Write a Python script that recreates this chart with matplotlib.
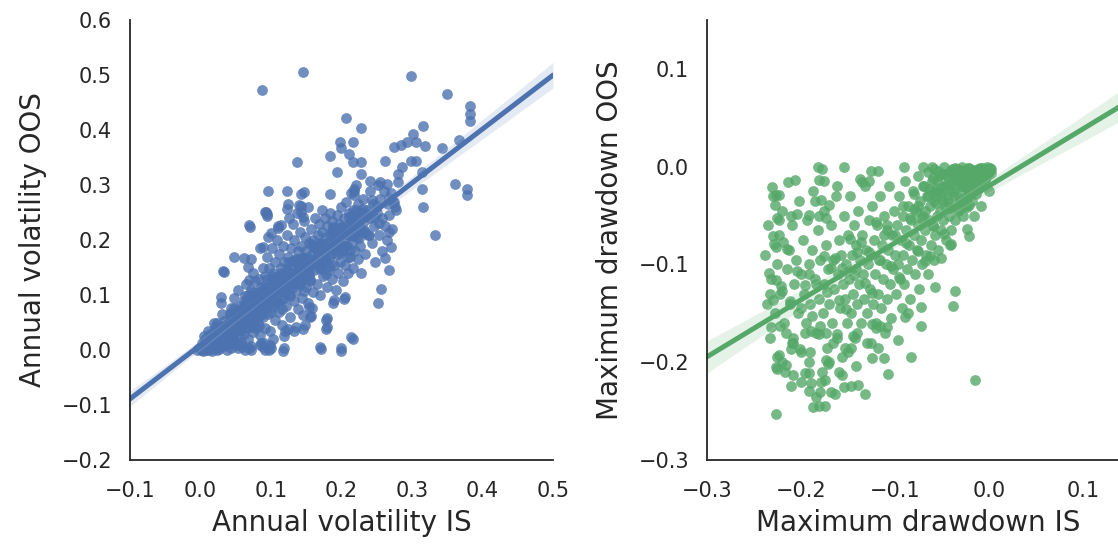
import matplotlib
matplotlib.use("Agg")
import matplotlib.pyplot as plt
import seaborn as sns
import numpy as np

# ---- left panel: annual volatility (IS vs OOS) ----
vol_is = [
    # outliers / sparse points
    0.145, 0.087, 0.299, 0.349, 0.382, 0.382, 0.382, 0.206, 0.227, 0.316, 0.301,
    0.198, 0.217, 0.199, 0.210, 0.183, 0.275, 0.284, 0.293, 0.306, 0.319, 0.342,
    0.366, 0.261, 0.298, 0.306, 0.217, 0.227, 0.137, 0.193, 0.227, 0.280, 0.280,
    0.286, 0.314, 0.240, 0.255, 0.265, 0.361, 0.378, 0.378, 0.314, 0.316, 0.333,
    0.096, 0.123, 0.142, 0.147, 0.218, 0.218, 0.218, 0.183, 0.268, 0.273, 0.276,
    0.092, 0.095, 0.123, 0.142, 0.143, 0.070, 0.047, 0.033, 0.267, 0.270, 0.262,
    0.267, 0.256, 0.252, 0.204, 0.188, 0.178, 0.178, 0.217, 0.171, 0.199, 0.117,
    0.097, 0.092, 0.071, 0.063, 0.053, 0.023, 0.038, 0.158, 0.155, 0.145, 0.132,
    0.120, 0.089, 0.085, 0.124, 0.140, 0.093, 0.095, 0.069, 0.114, 0.126, 0.145,
    0.032, 0.062, 0.071, 0.067, 0.069, 0.088, 0.100, 0.110, 0.190, 0.205, 0.179,
    0.179, 0.154, 0.157, 0.145, 0.124, 0.136, 0.148, 0.169, 0.199, 0.214, 0.057,
    0.069, 0.086, 0.098, 0.100, 0.119, 0.029, 0.029, 0.043,
    # cloud
    0.000, 0.003, 0.005, 0.006, 0.008, 0.010, 0.012, 0.013, 0.015, 0.016, 0.018,
    0.019, 0.020, 0.022, 0.023, 0.025, 0.026, 0.027, 0.028, 0.030, 0.031, 0.032,
    0.034, 0.035, 0.036, 0.038, 0.039, 0.040, 0.041, 0.043, -0.005, -0.002, 0.002,
    0.004, 0.007, 0.011, 0.014, 0.017, 0.021, 0.024,
    0.045, 0.046, 0.048, 0.049, 0.050, 0.051, 0.052, 0.054, 0.055, 0.056, 0.057,
    0.058, 0.060, 0.061, 0.062, 0.063, 0.064, 0.066, 0.067, 0.068, 0.069, 0.070,
    0.071, 0.072, 0.073, 0.074, 0.075, 0.076, 0.077, 0.078, 0.079, 0.080, 0.047,
    0.053, 0.059, 0.065, 0.071, 0.074,
    0.081, 0.082, 0.083, 0.084, 0.085, 0.086, 0.087, 0.088, 0.089, 0.090, 0.091,
    0.092, 0.093, 0.094, 0.095, 0.096, 0.097, 0.098, 0.099, 0.100, 0.101, 0.102,
    0.103, 0.104, 0.105, 0.106, 0.107, 0.108, 0.109, 0.110, 0.111, 0.112, 0.113,
    0.114, 0.115, 0.116, 0.117, 0.118, 0.119, 0.120, 0.084, 0.090, 0.096, 0.103,
    0.110, 0.118,
    0.121, 0.122, 0.123, 0.124, 0.125, 0.126, 0.127, 0.128, 0.129, 0.130, 0.131,
    0.132, 0.133, 0.134, 0.135, 0.136, 0.137, 0.138, 0.139, 0.140, 0.141, 0.142,
    0.143, 0.144, 0.145, 0.146, 0.147, 0.148, 0.149, 0.150, 0.151, 0.152, 0.153,
    0.154, 0.155, 0.156, 0.157, 0.158, 0.159, 0.160,
    0.161, 0.162, 0.163, 0.164, 0.165, 0.166, 0.167, 0.168, 0.169, 0.170, 0.171,
    0.172, 0.173, 0.174, 0.175, 0.176, 0.177, 0.178, 0.179, 0.180, 0.181, 0.182,
    0.183, 0.184, 0.185, 0.186, 0.187, 0.188, 0.189, 0.190, 0.191, 0.192, 0.193,
    0.194, 0.195, 0.196, 0.197, 0.198, 0.199, 0.200,
    0.201, 0.202, 0.203, 0.204, 0.205, 0.206, 0.207, 0.208, 0.209, 0.210, 0.211,
    0.212, 0.213, 0.214, 0.215, 0.216, 0.217, 0.218, 0.219, 0.220, 0.221, 0.222,
    0.223, 0.224, 0.225, 0.226, 0.227, 0.228, 0.229, 0.230, 0.232, 0.234, 0.236,
    0.238, 0.240,
    0.241, 0.243, 0.245, 0.246, 0.248, 0.250, 0.252, 0.253, 0.255, 0.257, 0.258,
    0.260, 0.262, 0.264, 0.266, 0.268, 0.270, 0.272, 0.275, 0.278,
]
vol_oos = [
    0.505, 0.473, 0.498, 0.465, 0.444, 0.429, 0.416, 0.422, 0.403, 0.408, 0.392,
    0.378, 0.378, 0.368, 0.356, 0.352, 0.370, 0.373, 0.378, 0.378, 0.371, 0.367,
    0.381, 0.344, 0.344, 0.344, 0.342, 0.342, 0.342, 0.324, 0.320, 0.320, 0.305,
    0.333, 0.324, 0.308, 0.305, 0.302, 0.302, 0.292, 0.281, 0.293, 0.260, 0.210,
    0.290, 0.290, 0.284, 0.287, 0.292, 0.289, 0.281, 0.283, 0.276, 0.270, 0.260,
    0.251, 0.244, 0.257, 0.262, 0.251, 0.223, 0.170, 0.141, 0.214, 0.187, 0.168,
    0.146, 0.111, 0.086, 0.092, 0.086, 0.054, 0.038, 0.020, 0.001, -0.001, -0.001,
    0.000, 0.000, 0.000, 0.000, 0.003, 0.000, 0.000, 0.076, 0.060, 0.038, 0.035,
    0.035, 0.006, 0.010, 0.265, 0.264, 0.251, 0.247, 0.227, 0.227, 0.240, 0.242,
    0.144, 0.167, 0.165, 0.151, 0.127, 0.188, 0.213, 0.222, 0.091, 0.096, 0.058,
    0.042, 0.078, 0.061, 0.064, 0.039, 0.042, 0.045, 0.006, 0.003, 0.024, 0.009,
    0.003, 0.012, 0.009, 0.003, 0.003, 0.097, 0.085, 0.076,
    0.000, 0.005, 0.002, 0.010, 0.004, 0.015, 0.008, 0.020, 0.003, 0.012, 0.025,
    0.018, 0.007, 0.030, 0.015, 0.022, 0.002, 0.035, 0.012, 0.028, 0.040, 0.018,
    0.008, 0.033, 0.045, 0.024, 0.014, 0.050, 0.036, 0.003, 0.000, 0.004, 0.012,
    -0.002, 0.020, 0.000, 0.030, -0.001, 0.042, 0.050,
    0.020, 0.060, 0.030, 0.042, 0.010, 0.070, 0.052, 0.025, 0.038, 0.080, 0.063,
    0.015, 0.048, 0.090, 0.030, 0.072, 0.055, 0.040, 0.100, 0.020, 0.085, 0.062,
    0.045, 0.110, 0.075, 0.032, 0.095, 0.055, 0.125, 0.068, 0.040, 0.088, 0.095,
    0.110, 0.005, 0.120, 0.008, 0.140,
    0.105, 0.050, 0.130, 0.075, 0.028, 0.115, 0.090, 0.150, 0.060, 0.100, 0.040,
    0.135, 0.080, 0.170, 0.115, 0.065, 0.150, 0.095, 0.035, 0.125, 0.185, 0.078,
    0.140, 0.105, 0.055, 0.160, 0.120, 0.088, 0.200, 0.135, 0.070, 0.175, 0.110,
    0.150, 0.045, 0.128, 0.190, 0.095, 0.160, 0.118, 0.185, 0.012, 0.205, 0.020,
    0.225, 0.025,
    0.080, 0.145, 0.210, 0.170, 0.100, 0.135, 0.060, 0.185, 0.155, 0.120, 0.230,
    0.090, 0.200, 0.165, 0.140, 0.108, 0.250, 0.180, 0.075, 0.155, 0.215, 0.125,
    0.190, 0.095, 0.170, 0.140, 0.235, 0.205, 0.115, 0.180, 0.150, 0.260, 0.085,
    0.195, 0.165, 0.130, 0.220, 0.175, 0.105, 0.200,
    0.145, 0.240, 0.185, 0.160, 0.120, 0.210, 0.175, 0.230, 0.100, 0.195, 0.150,
    0.255, 0.215, 0.135, 0.180, 0.240, 0.165, 0.205, 0.115, 0.225, 0.190, 0.145,
    0.250, 0.170, 0.210, 0.130, 0.235, 0.185, 0.155, 0.220, 0.200, 0.110, 0.245,
    0.175, 0.140, 0.230, 0.195, 0.160, 0.260, 0.210,
    0.180, 0.125, 0.240, 0.200, 0.155, 0.225, 0.270, 0.190, 0.140, 0.250, 0.210,
    0.170, 0.235, 0.285, 0.195, 0.150, 0.255, 0.220, 0.180, 0.240, 0.300, 0.205,
    0.165, 0.265, 0.230, 0.190, 0.250, 0.140, 0.215, 0.275, 0.235, 0.175, 0.255,
    0.210, 0.290,
    0.240, 0.195, 0.265, 0.225, 0.160, 0.250, 0.300, 0.210, 0.275, 0.180, 0.240,
    0.290, 0.225, 0.200, 0.265, 0.245, 0.285, 0.220, 0.270, 0.255,
]
# tight band of points hugging the diagonal
vol_is_band = [
    0.005, 0.0085, 0.012, 0.0155, 0.019, 0.0225, 0.026, 0.0295, 0.033, 0.0365,
    0.040, 0.0435, 0.047, 0.0505, 0.054, 0.0575, 0.061, 0.0645, 0.068, 0.0715,
    0.075, 0.0785, 0.082, 0.0855, 0.089, 0.0925, 0.096, 0.0995, 0.103, 0.1065,
    0.110, 0.1135, 0.117, 0.1205, 0.124, 0.1275, 0.131, 0.1345, 0.138, 0.1415,
    0.145, 0.1485, 0.152, 0.1555, 0.159, 0.1625, 0.166, 0.1695, 0.173, 0.1765,
    0.180, 0.1835, 0.187, 0.1905, 0.194, 0.1975, 0.201, 0.2045, 0.208, 0.2115,
    0.215, 0.2185, 0.222, 0.2255, 0.229, 0.2325, 0.236, 0.2395, 0.243, 0.2465,
    0.250, 0.2535,
    0.0065, 0.010, 0.0135, 0.017, 0.0205, 0.024, 0.0275, 0.031, 0.0345, 0.038,
    0.0415, 0.045, 0.0485, 0.052, 0.0555, 0.059, 0.0625, 0.066, 0.0695, 0.073,
    0.0765, 0.080, 0.0835, 0.087, 0.0905, 0.094, 0.0975, 0.101, 0.1045, 0.108,
    0.1115, 0.115, 0.1185, 0.122, 0.1255, 0.129, 0.1325, 0.136, 0.1395, 0.143,
    0.1465, 0.150, 0.1535, 0.157, 0.1605, 0.164, 0.1675, 0.171, 0.1745, 0.178,
    0.1815, 0.185, 0.1885, 0.192, 0.1955, 0.199, 0.2025, 0.206, 0.2095, 0.213,
    0.2165, 0.220, 0.2235, 0.227, 0.2305, 0.234, 0.2375,
    0.030, 0.034, 0.038, 0.042, 0.046, 0.050, 0.054, 0.058, 0.062, 0.066,
    0.070, 0.074, 0.078, 0.082, 0.086, 0.090, 0.094, 0.098, 0.102, 0.106,
    0.110, 0.114, 0.118, 0.122, 0.126, 0.130, 0.134, 0.138, 0.142, 0.146,
    0.150, 0.154, 0.158, 0.162, 0.166, 0.170, 0.174, 0.178, 0.182, 0.186,
    0.190, 0.194, 0.198, 0.202, 0.206, 0.210, 0.214, 0.218,
]
vol_oos_band = [
    0.025, 0.000, 0.017, 0.002, 0.049, 0.0175, 0.038, 0.0075, 0.053, 0.0215,
    0.045, 0.0135, 0.077, 0.0455, 0.066, 0.0355, 0.081, 0.0495, 0.073, 0.0415,
    0.105, 0.0735, 0.094, 0.0635, 0.109, 0.0775, 0.101, 0.0695, 0.133, 0.1015,
    0.122, 0.0915, 0.137, 0.1055, 0.129, 0.0975, 0.161, 0.1295, 0.150, 0.1195,
    0.165, 0.1335, 0.157, 0.1255, 0.189, 0.1575, 0.178, 0.1475, 0.193, 0.1615,
    0.185, 0.1535, 0.217, 0.1855, 0.206, 0.1755, 0.221, 0.1895, 0.213, 0.1815,
    0.245, 0.2135, 0.234, 0.2035, 0.249, 0.2175, 0.241, 0.2095, 0.273, 0.2415,
    0.262, 0.2315,
    0.001, 0.035, 0.001, 0.027, 0.003, 0.039, 0.0175, 0.066, 0.0345, 0.030,
    0.0665, 0.025, 0.0585, 0.012, 0.0705, 0.049, 0.0975, 0.066, 0.0615, 0.098,
    0.0565, 0.090, 0.0435, 0.102, 0.0805, 0.129, 0.0975, 0.093, 0.1295, 0.088,
    0.1215, 0.075, 0.1335, 0.112, 0.1605, 0.129, 0.1245, 0.161, 0.1195, 0.153,
    0.1065, 0.165, 0.1435, 0.192, 0.1605, 0.156, 0.1925, 0.151, 0.1845, 0.138,
    0.1965, 0.175, 0.2235, 0.192, 0.1875, 0.224, 0.1825, 0.216, 0.1695, 0.228,
    0.2065, 0.255, 0.2235, 0.219, 0.2555, 0.214, 0.2475,
    0.042, 0.011, 0.035, 0.064, 0.033, 0.056, 0.067, 0.036, 0.060, 0.089,
    0.059, 0.081, 0.092, 0.061, 0.085, 0.115, 0.084, 0.106, 0.117, 0.086,
    0.111, 0.140, 0.109, 0.131, 0.142, 0.112, 0.136, 0.165, 0.134, 0.156,
    0.168, 0.137, 0.161, 0.190, 0.159, 0.182, 0.193, 0.162, 0.186, 0.215,
    0.185, 0.207, 0.218, 0.187, 0.211, 0.241, 0.210, 0.232,
]

# ---- right panel: maximum drawdown (IS vs OOS) ----
dd_is = [
    -0.0145, -0.227, -0.182, -0.178, -0.154, -0.090, -0.070, -0.061, -0.048, -0.036,
    -0.029, -0.021, -0.010, -0.002, 0.002, -0.231, -0.214, -0.206, -0.181, -0.175,
    -0.162, -0.126, -0.118, -0.137, -0.135, -0.128, -0.227, -0.223, -0.228, -0.225,
    -0.223, -0.211, -0.204, -0.192, -0.181, -0.173, -0.185, -0.179, -0.170, -0.230,
    -0.229, -0.227, -0.219, -0.215, -0.234, -0.227, -0.221, -0.233, -0.230, -0.232,
    -0.222, -0.227, -0.225, -0.216, -0.211, -0.208, -0.196, -0.192, -0.223, -0.211,
    -0.201, -0.192, -0.189, -0.187, -0.181, -0.174, -0.184, -0.179, -0.174, -0.168,
    -0.164, -0.154, -0.147, -0.139, -0.132, -0.156, -0.173, -0.171, -0.141, -0.153,
    -0.147, -0.124, -0.112, -0.118, -0.107, -0.083, -0.097, -0.072, -0.072, -0.038,
    -0.036, -0.057, -0.042, -0.021, -0.023, -0.023, -0.021, -0.051, -0.063, -0.109,
    -0.116, -0.124, -0.086, -0.089, -0.162, -0.145, -0.166, -0.189, -0.181, -0.173,
    -0.196,
    -0.238, -0.236, -0.235, -0.233, -0.232, -0.230, -0.228, -0.226, -0.225, -0.223,
    -0.222, -0.220, -0.218, -0.217, -0.215, -0.213, -0.212, -0.210, -0.208, -0.207,
    -0.205, -0.203, -0.202, -0.200, -0.200,
    -0.198, -0.197, -0.195, -0.194, -0.192, -0.191, -0.190, -0.188, -0.187, -0.185,
    -0.184, -0.182, -0.181, -0.180, -0.178, -0.177, -0.176, -0.175, -0.173, -0.172,
    -0.171, -0.170, -0.168, -0.167, -0.166, -0.165, -0.163, -0.162, -0.161, -0.160,
    -0.158, -0.157, -0.156, -0.155, -0.154, -0.153, -0.152, -0.151, -0.150,
    -0.149, -0.148, -0.147, -0.146, -0.145, -0.144, -0.143, -0.142, -0.141, -0.140,
    -0.139, -0.138, -0.137, -0.136, -0.135, -0.134, -0.133, -0.132, -0.131, -0.130,
    -0.129, -0.128, -0.127, -0.126, -0.125, -0.124, -0.123, -0.122, -0.121, -0.120,
    -0.119, -0.118, -0.117, -0.116, -0.115, -0.114, -0.113, -0.112, -0.111, -0.110,
    -0.109, -0.108, -0.107, -0.106, -0.105, -0.104, -0.103, -0.102, -0.101, -0.100,
    -0.099, -0.098, -0.097, -0.096, -0.095, -0.094, -0.093, -0.092, -0.091, -0.090,
    -0.089, -0.088, -0.087, -0.086, -0.085, -0.084, -0.083, -0.082, -0.081, -0.080,
    -0.079, -0.078, -0.077, -0.076, -0.075, -0.074, -0.073, -0.072, -0.071, -0.070,
    -0.069, -0.068, -0.067, -0.066, -0.065, -0.064, -0.063, -0.062, -0.061, -0.060,
    -0.059, -0.058, -0.057, -0.056, -0.055, -0.054, -0.053, -0.052, -0.051, -0.050,
    -0.049, -0.048, -0.047, -0.046, -0.045, -0.044, -0.043, -0.042, -0.041, -0.040,
    -0.039, -0.038, -0.037, -0.036, -0.035, -0.034, -0.033, -0.032, -0.031, -0.030,
    -0.029, -0.028, -0.027, -0.026, -0.025, -0.024, -0.023, -0.022, -0.021, -0.020,
    -0.019, -0.018, -0.017, -0.016, -0.015, -0.014, -0.013, -0.012, -0.011, -0.010,
    -0.009, -0.008, -0.007, -0.006, -0.005, -0.004, -0.003, -0.002, -0.001, 0.000,
    0.001, 0.002,
]
dd_oos = [
    -0.218, -0.253, 0.000, -0.002, 0.000, 0.000, 0.000, 0.000, 0.000, -0.001,
    0.000, -0.001, -0.001, 0.000, -0.002, -0.021, -0.016, -0.014, -0.014, -0.015,
    -0.020, -0.004, -0.004, -0.013, -0.016, -0.015, -0.029, -0.029, -0.039, -0.052,
    -0.055, -0.050, -0.048, -0.049, -0.050, -0.052, -0.035, -0.034, -0.039, -0.071,
    -0.079, -0.082, -0.077, -0.084, -0.109, -0.116, -0.122, -0.130, -0.136, -0.164,
    -0.163, -0.205, -0.207, -0.203, -0.224, -0.213, -0.211, -0.211, -0.193, -0.186,
    -0.186, -0.229, -0.221, -0.246, -0.245, -0.245, -0.236, -0.220, -0.218, -0.230,
    -0.232, -0.225, -0.224, -0.223, -0.232, -0.213, -0.198, -0.202, -0.204, -0.185,
    -0.185, -0.196, -0.196, -0.185, -0.212, -0.195, -0.177, -0.163, -0.144, -0.142,
    -0.127, -0.123, -0.080, -0.071, -0.064, -0.041, -0.039, -0.093, -0.091, -0.164,
    -0.163, -0.161, -0.150, -0.154, -0.171, -0.173, -0.180, -0.168, -0.171, -0.170,
    -0.170,
    -0.090, -0.140, -0.060, -0.175, -0.115, -0.030, -0.150, -0.195, -0.100, -0.070,
    -0.130, -0.045, -0.160, -0.210, -0.105, -0.085, -0.140, -0.060, -0.175, -0.120,
    -0.095, -0.150, -0.035, -0.190, -0.110,
    -0.075, -0.130, -0.160, -0.055, -0.100, -0.200, -0.140, -0.085, -0.025, -0.115,
    -0.170, -0.065, -0.135, -0.095, -0.210, -0.150, -0.045, -0.120, -0.080, -0.185,
    -0.105, -0.140, -0.060, -0.160, -0.095, -0.125, -0.030, -0.175, -0.110, -0.075,
    -0.145, -0.090, -0.195, -0.120, -0.050, -0.135, -0.100, -0.160, -0.070,
    -0.115, -0.030, -0.150, -0.090, -0.130, -0.060, -0.175, -0.105, -0.080, -0.140,
    -0.045, -0.120, -0.095, -0.160, -0.070, -0.110, -0.135, -0.020, -0.085, -0.150,
    -0.100, -0.055, -0.125, -0.180, -0.090, -0.040, -0.140, -0.075, -0.110, -0.165,
    -0.060, -0.130, -0.095, -0.030, -0.145, -0.080, -0.115, -0.050, -0.170, -0.100,
    -0.065, -0.135, -0.085, -0.020, -0.120, -0.155, -0.070, -0.105, -0.045, -0.090,
    -0.130, -0.060, -0.100, -0.030, -0.115, -0.075, -0.145, -0.050, -0.090, -0.120,
    -0.015, -0.065, -0.105, -0.040, -0.080, -0.135, -0.055, -0.095, -0.025, -0.070,
    -0.110, -0.045, -0.085, -0.010, -0.060, -0.125, -0.035, -0.075, -0.100, -0.050,
    -0.020, -0.065, -0.090, -0.030, -0.110, -0.055, -0.040, -0.080, -0.015, -0.060,
    -0.095, -0.035, -0.070, -0.025, -0.050, -0.085, -0.010, -0.045, -0.065, -0.030,
    -0.055, -0.020, -0.040, -0.075, -0.010, -0.030, -0.050, -0.005, -0.025, -0.065,
    -0.040, -0.015, -0.030, -0.055, -0.008, -0.022, -0.045, -0.012, -0.035, -0.003,
    -0.020, -0.050, -0.010, -0.028, -0.040, -0.005, -0.018, -0.030, -0.008, -0.025,
    -0.013, -0.035, -0.003, -0.020, -0.010, -0.028, -0.005, -0.015, -0.022, -0.002,
    -0.012, -0.018, -0.006, -0.010, -0.003, -0.014, -0.007, -0.002, -0.009, -0.004,
    -0.001, -0.006,
]
# denser band along the trend, the crowded top-right corner and the low left tail
dd_is_band = [
    -0.220, -0.216, -0.212, -0.208, -0.204, -0.200, -0.196, -0.192, -0.188, -0.184,
    -0.180, -0.176, -0.172, -0.168, -0.164, -0.160, -0.156, -0.152, -0.148, -0.144,
    -0.140, -0.136, -0.132, -0.128, -0.124, -0.120, -0.116, -0.112, -0.108, -0.104,
    -0.100, -0.096, -0.092, -0.088, -0.084, -0.080, -0.076, -0.072, -0.068, -0.064,
    -0.060, -0.056, -0.052, -0.048, -0.044, -0.040, -0.036, -0.032, -0.028, -0.024,
    -0.020, -0.016, -0.012, -0.008, -0.004, 0.000,
    -0.040, -0.037, -0.034, -0.031, -0.028, -0.025, -0.022, -0.019, -0.016, -0.013,
    -0.010, -0.007, -0.004, -0.001, -0.045, -0.050, -0.055, -0.060, -0.065, -0.058,
    -0.220, -0.210, -0.200, -0.190, -0.180, -0.170, -0.160, -0.150, -0.140, -0.130,
    -0.120,
    -0.060, -0.057, -0.054, -0.052, -0.049, -0.047, -0.044, -0.042, -0.039, -0.037,
    -0.035, -0.032, -0.030, -0.027, -0.025, -0.022, -0.020, -0.017, -0.015, -0.012,
    -0.009, -0.006, -0.003, -0.070, -0.075, -0.080, -0.068, -0.065,
]
dd_oos_band = [
    -0.127, -0.170, -0.137, -0.180, -0.107, -0.145, -0.121, -0.110, -0.153, -0.120,
    -0.163, -0.091, -0.128, -0.104, -0.093, -0.136, -0.104, -0.146, -0.074, -0.111,
    -0.087, -0.077, -0.119, -0.087, -0.129, -0.057, -0.095, -0.070, -0.060, -0.102,
    -0.070, -0.113, -0.040, -0.078, -0.053, -0.043, -0.086, -0.053, -0.096, -0.023,
    -0.061, -0.037, -0.026, -0.069, -0.036, -0.079, -0.007, -0.044, -0.020, -0.009,
    -0.007, -0.050, -0.002, -0.040, -0.012, -0.025,
    -0.004, -0.012, -0.002, -0.016, -0.006, -0.011, -0.001, -0.008, -0.015, -0.003,
    -0.009, -0.001, -0.005, -0.002, -0.018, -0.008, -0.015, -0.025, -0.005, -0.002,
    -0.200, -0.180, -0.220, -0.190, -0.230, -0.200, -0.210, -0.190, -0.170, -0.180,
    -0.160,
    -0.012, -0.030, -0.004, -0.022, -0.035, -0.008, -0.020, -0.042, -0.002, -0.025,
    -0.014, -0.032, -0.007, -0.019, -0.003, -0.024, -0.010, -0.004, -0.017, -0.008,
    -0.013, -0.003, -0.010, -0.020, -0.040, -0.028, -0.045, -0.030,
]

blue = "#4C72B0"
green = "#55A868"

sns.set_style("white")
plt.rcParams['font.family'] = ['DejaVu Sans']

fig = plt.figure(figsize=(11.18, 5.46), dpi=100)
ax1 = fig.add_axes([130 / 1118, 86 / 546, 423 / 1118, 440 / 546])
ax2 = fig.add_axes([707 / 1118, 86 / 546, 423 / 1118, 440 / 546])

scatter_style = {"s": 60, "alpha": 0.8, "linewidths": 0}

ax1.set_xlim(-0.1, 0.5)
sns.regplot(x=np.array(vol_is + vol_is_band), y=np.array(vol_oos + vol_oos_band),
            ax=ax1, color=blue, truncate=False, seed=0,
            scatter_kws=scatter_style, line_kws={"lw": 3.6})
ax1.set_ylim(-0.2, 0.6)
ax1.set_xlabel("Annual volatility IS", fontsize=20, labelpad=6)
ax1.set_ylabel("Annual volatility OOS", fontsize=20, labelpad=10)

ax2.set_xlim(-0.3, 0.15)
sns.regplot(x=np.array(dd_is + dd_is_band), y=np.array(dd_oos + dd_oos_band),
            ax=ax2, color=green, truncate=False, seed=0,
            scatter_kws=scatter_style, line_kws={"lw": 3.6})
ax2.set_ylim(-0.3, 0.15)
ax2.set_xticks([-0.3, -0.2, -0.1, 0.0, 0.1])
ax2.set_yticks([-0.3, -0.2, -0.1, 0.0, 0.1])
ax2.set_xlabel("Maximum drawdown IS", fontsize=20, labelpad=6)
ax2.set_ylabel("Maximum drawdown OOS", fontsize=20, labelpad=10)

for ax in (ax1, ax2):
    sns.despine(ax=ax)
    ax.tick_params(axis="x", labelsize=15, length=0, pad=15, colors=".15")
    ax.tick_params(axis="y", labelsize=15, length=0, pad=13, colors=".15")
    for s in ("left", "bottom"):
        ax.spines[s].set_color(".15")
        ax.spines[s].set_linewidth(1.3)

fig.savefig("out.png", dpi=100)
